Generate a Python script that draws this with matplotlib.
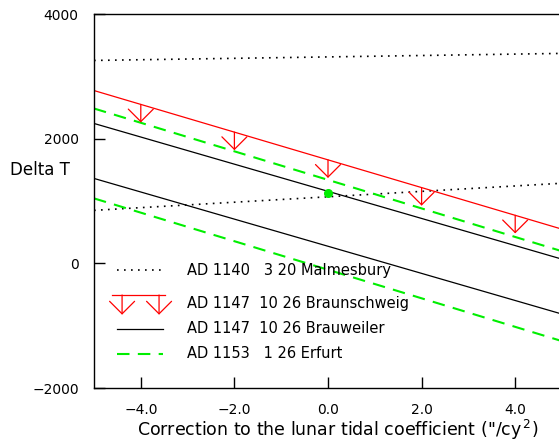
import numpy as np
import matplotlib
matplotlib.use("Agg")
import matplotlib.pyplot as plt
from matplotlib.lines import Line2D

# line ends at x = -5 and x = +5 (Delta T in seconds)
x_ends = [-5.0, 5.0]
malmesbury_hi = [3255, 3368]
malmesbury_lo = [850, 1285]
braunschweig = [2772, 548]
brauweiler_hi = [2244, 67]
brauweiler_lo = [1362, -814]
erfurt_hi = [2484, 194]
erfurt_lo = [1042, -1248]
arrow_x = [-4.0, -2.0, 0.0, 2.0, 4.0]
arrow_len = 290
dot_x, dot_y = 0.0, 1122

legend_labels = ["AD 1140   3 20 Malmesbury",
                 "AD 1147  10 26 Braunschweig",
                 "AD 1147  10 26 Brauweiler",
                 "AD 1153   1 26 Erfurt"]

RED = "#ff0000"
GREEN = "#00ee00"
plt.rcParams["font.family"] = ["DejaVu Sans"]
plt.rcParams["font.size"] = 10

fig = plt.figure(figsize=(5.59, 4.41), dpi=100)
ax = fig.add_axes([94/559, 53/441, 468/559, 374/441])

dotted = dict(color="k", lw=1.2, dashes=(1, 3.2))
dashed = dict(color=GREEN, lw=1.5, dashes=(6, 4))

ax.plot(x_ends, malmesbury_hi, **dotted)
ax.plot(x_ends, malmesbury_lo, **dotted)
ax.plot(x_ends, braunschweig, color=RED, lw=0.9)
ax.plot(x_ends, brauweiler_hi, color="k", lw=0.9)
ax.plot(x_ends, brauweiler_lo, color="k", lw=0.9)
ax.plot(x_ends, erfurt_hi, **dashed)
ax.plot(x_ends, erfurt_lo, **dashed)
ax.plot([dot_x], [dot_y], "o", color=GREEN, ms=5.5, zorder=5)

# upper-limit arrows hanging from the Braunschweig line
arrow_style = "->,head_length=0.45,head_width=0.45"
red_y = np.interp(arrow_x, x_ends, braunschweig)
for xa, ya in zip(arrow_x, red_y):
    ax.annotate("", xy=(xa, ya - arrow_len), xytext=(xa, ya),
                arrowprops=dict(arrowstyle=arrow_style, color=RED, lw=0.9,
                                mutation_scale=20, shrinkA=0, shrinkB=0))

# legend, drawn by hand in axes fraction
tr = ax.transAxes
ax.add_line(Line2D([0.049, 0.1475], [0.3155, 0.3155], transform=tr, **dotted))
ax.add_line(Line2D([0.0385, 0.152], [0.2487, 0.2487], transform=tr, color=RED, lw=0.9))
for xa in [0.06, 0.139]:
    ax.annotate("", xy=(xa, 0.196), xytext=(xa, 0.2487), xycoords=tr, textcoords=tr,
                arrowprops=dict(arrowstyle=arrow_style, color=RED, lw=0.9,
                                mutation_scale=20, shrinkA=0, shrinkB=0))
ax.add_line(Line2D([0.049, 0.1475], [0.158, 0.158], transform=tr, color="k", lw=0.9))
ax.add_line(Line2D([0.049, 0.1475], [0.091, 0.091], transform=tr, **dashed))
for yy, lab in zip([0.3155, 0.2246, 0.158, 0.091], legend_labels):
    ax.text(0.199, yy, lab, transform=tr, va="center", ha="left", fontsize=10.5)

ax.set_xlim(-5, 5)
ax.set_ylim(-2000, 4000)
ax.set_xticks(arrow_x)
ax.set_xticklabels(["\u22124.0", "\u22122.0", "0.0", "2.0", "4.0"])
ax.set_yticks([-2000, 0, 2000, 4000])
ax.set_yticklabels(["\u22122000", "0", "2000", "4000"])
ax.tick_params(direction="in", length=8, width=1, pad=11, labelsize=10)
ax.spines["right"].set_visible(False)
for s in ["left", "bottom", "top"]:
    ax.spines[s].set_linewidth(1.0)

fig.text(338/559, 1 - 430/441,
         "Correction to the lunar tidal coefficient (\"/cy$^{\\,2}$)",
         ha="center", va="center", fontsize=12.5)
fig.text(10/559, 1 - 170/441, "Delta T", ha="left", va="center", fontsize=12)

fig.savefig("out.png", dpi=100)
